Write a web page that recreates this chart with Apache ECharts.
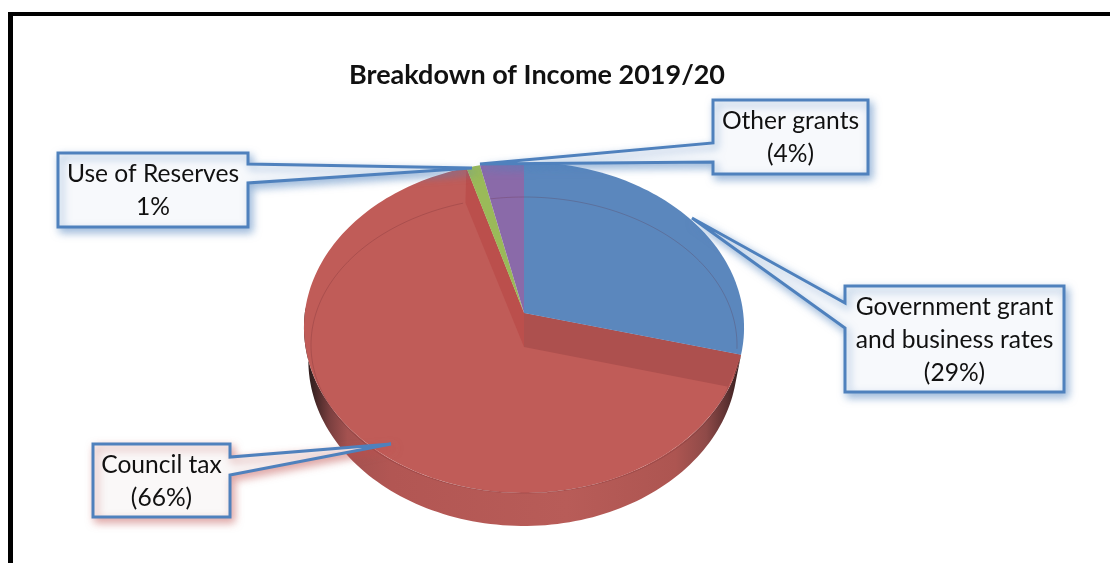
<!DOCTYPE html>
<html><head><meta charset="utf-8">
<style>html,body{margin:0;padding:0;background:#fff}#c{width:1110px;height:563px}</style>
<script src="https://cdn.jsdelivr.net/npm/echarts@6/dist/echarts.min.js"></script>
</head><body><div id="c"></div>
<script>
var titleText = 'Breakdown of Income 2019/20';
var categories = ['Government grant and business rates', 'Council tax', 'Use of Reserves', 'Other grants'];
var values = [29, 66.4, 1.1, 3.5];
var calloutLines = [['Government grant', 'and business rates', '(29%)'], ['Council tax', '(66%)'], ['Use of Reserves', '1%'], ['Other grants', '(4%)']];
var sliceColors = ['#5b87bd', '#c05c58', '#9aba59', '#8a6aa9'];

var CX = 524, CY = 313, A = 164.2, B = 219.2, P = -0.0876, DEPTH = 33;
function proj(deg, r) {
  var t = deg * Math.PI / 180, u = Math.sin(t) * r, v = -Math.cos(t) * r, w = 1 + P * v;
  return [CX + B * u / w, CY + A * v / w];
}
var total = values.reduce(function (a, b) { return a + b; }, 0);
var acc = 0;
var spans = values.map(function (v) { var s = acc; acc += v; return [s / total * 360, acc / total * 360]; });
// the largest slice is painted first, the others sit on top of it
var paintOrder = [1, 0, 2, 3];
var pieData = paintOrder.map(function (i) { return { name: categories[i], value: [spans[i][0], spans[i][1], i, values[i]] }; });

function arc(a, b, dy) {
  var pts = [], n = Math.max(2, Math.ceil(Math.abs(b - a) / 1.5));
  for (var k = 0; k <= n; k++) { var p = proj(a + (b - a) * k / n, 1); pts.push([p[0], p[1] + dy]); }
  return pts;
}
function baseArc(a, b) {
  return arc(a, b, DEPTH).map(function (p) {
    return [CX + (p[0] - CX) * (p[0] > CX ? 0.97 : 0.98), p[1]];
  });
}
// the inner rim of the disc
function rim(deg) {
  var t = deg * Math.PI / 180;
  return [524 + 213 * Math.sin(t), 345 - 148 * Math.cos(t)];
}
function rimLine(a, b) {
  var pts = [];
  for (var d = a; d <= b; d += 1.5) pts.push(rim(d));
  return pts;
}
function poly(points, fill, extra) {
  return { type: 'polygon', shape: { points: points }, style: Object.assign({ fill: fill, stroke: null }, extra || {}) };
}
var wallGrad = new echarts.graphic.LinearGradient(0, 0, 1, 0, [
  { offset: 0, color: '#2a1a1a' }, { offset: 0.02, color: '#3a2222' }, { offset: 0.06, color: '#7c4040' },
  { offset: 0.1, color: '#a45250' }, { offset: 0.2, color: '#b25653' }, { offset: 0.6, color: '#b85c58' },
  { offset: 0.85, color: '#ad5551' }, { offset: 0.92, color: '#8f4a48' }, { offset: 0.97, color: '#5a3030' },
  { offset: 1, color: '#301a1a' }]);

function renderSlice(params, api) {
  var s = api.value(0), e = api.value(1), i = api.value(2), kids = [];
  var face = [[CX, CY]].concat(arc(s, e, 0));
  if (i === 1) {
    var wallEnd = 272;
    kids.push(poly(arc(s, wallEnd, 0).concat(baseArc(s, wallEnd).reverse()), wallGrad));
    kids.push(poly(face, sliceColors[i]));
    var sp = proj(s, 1), ep = proj(e, 1), sl = rim(s + 2), el = rim(e + 0.6);
    kids.push(poly(arc(s, s + 9, 0), '#5a2c2b'));
    kids.push(poly([[CX, CY], sp, sl, [CX, CY + DEPTH + 1]], '#ad504e'));
    kids.push(poly([[CX, CY], ep, el, [CX, CY + DEPTH + 1]], '#bb4f4c'));
  } else {
    kids.push(poly(face, sliceColors[i]));
  }
  return { type: 'group', children: kids };
}

var boxes = [
  { rect: [845, 286, 1064, 392], side: 'l', a: 303, b: 328, tip: [692, 218], fill: '#f7f9fc', shadow: 'rgba(79,129,189,0.55)' },
  { rect: [93, 444, 230, 517], side: 'r', a: 457, b: 475, tip: [391, 444], fill: '#faf8f8', shadow: 'rgba(192,80,77,0.5)' },
  { rect: [58, 153, 248, 227], side: 'r', a: 164, b: 183, tip: [472, 168], fill: '#f7f9fc', shadow: 'rgba(79,129,189,0.55)' },
  { rect: [713, 100, 868, 174], side: 'l', a: 143, b: 162, tip: [480, 164], fill: '#f7f9fc', shadow: 'rgba(79,129,189,0.55)' }
];
var FONT = 'Lato, "Open Sans", sans-serif';
var rimStroke = { fill: null, stroke: 'rgba(90,30,40,0.22)', lineWidth: 1 };
var graphics = [
  { type: 'rect', shape: { x: 8, y: 12, width: 5, height: 551 }, style: { fill: '#000' }, z: 10 },
  { type: 'rect', shape: { x: 8, y: 12, width: 1102, height: 4 }, style: { fill: '#000' }, z: 10 },
  { type: 'polyline', shape: { points: rimLine(-9, 92) }, style: rimStroke, z: 5, silent: true },
  { type: 'polyline', shape: { points: rimLine(106.4, 344) }, style: rimStroke, z: 5, silent: true }
];
boxes.forEach(function (b, i) {
  var r = b.rect, pts;
  if (b.side === 'l') pts = [[r[0], r[1]], [r[2], r[1]], [r[2], r[3]], [r[0], r[3]], [r[0], b.b], b.tip, [r[0], b.a]];
  else pts = [[r[0], r[1]], [r[2], r[1]], [r[2], b.a], b.tip, [r[2], b.b], [r[2], r[3]], [r[0], r[3]]];
  graphics.push({ type: 'polygon', shape: { points: pts }, z: 6,
    style: { fill: b.fill, stroke: '#4f81bd', lineWidth: 3, lineJoin: 'miter', shadowBlur: 8, shadowOffsetX: 3, shadowOffsetY: 4, shadowColor: b.shadow } });
  graphics.push({ type: 'text', z: 7, x: (r[0] + r[2]) / 2, y: (r[1] + r[3]) / 2 + 1,
    style: { text: calloutLines[i].join('\n'), fill: '#111', font: '24.6px ' + FONT, align: 'center', verticalAlign: 'middle', lineHeight: 33 } });
});

var chart = echarts.init(document.getElementById('c'), null, { renderer: 'canvas' });
chart.setOption({
  animation: false,
  backgroundColor: '#fff',
  title: { text: titleText, left: 532, top: 57, textAlign: 'center',
    textStyle: { fontFamily: FONT, fontWeight: 'bold', fontSize: 27, color: '#111' } },
  series: [{ type: 'custom', coordinateSystem: 'none', renderItem: renderSlice, data: pieData, silent: true, z: 2 }],
  graphic: graphics
});
</script></body></html>
